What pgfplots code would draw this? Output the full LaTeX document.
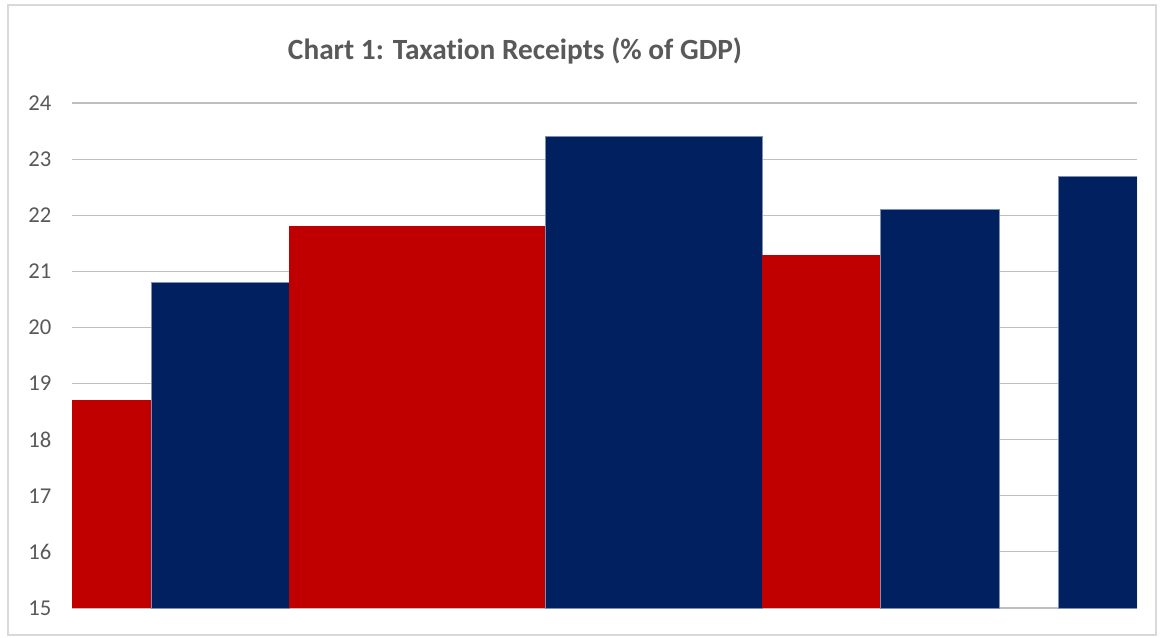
\documentclass[border=0pt]{standalone}
\usepackage{pgfplots}
\pgfplotsset{compat=1.18}
\usepackage{fontspec}
\setmainfont{Carlito}[Ligatures=NoCommon]
\definecolor{exred}{HTML}{C00000}
\definecolor{exblue}{HTML}{002060}
\definecolor{txt}{HTML}{595959}
\definecolor{grid}{HTML}{D9D9D9}
\definecolor{edge}{HTML}{7F8FB0}
\begin{document}
\begin{tikzpicture}[x=0.75pt,y=0.75pt]
\path[use as bounding box] (-72,-29) rectangle (1088,608);
\draw[grid, line width=0.9pt] (-64,-27) rectangle (1084,603);
\begin{axis}[
  at={(0,0)}, anchor=south west,
  scale only axis,
  width=798.75pt, height=378.75pt,
  xmin=72, xmax=1137,
  ymin=15, ymax=24,
  ytick={15,16,...,24},
  xtick=\empty,
  ymajorgrids,
  grid style={grid, line width=0.9pt},
  axis line style={draw=none},
  major tick length=0pt,
  tick label style={font=\fontsize{17}{20}\selectfont, text=txt},
  yticklabel style={xshift=-12pt},
  /pgf/number format/assume math mode=true,
  clip=true,
]
\addplot[fill=exred, draw=none] coordinates {(72,15) (72,18.7) (151.5,18.7) (151.5,15)} --cycle;
\addplot[fill=exblue, draw=edge, line width=0.35pt] coordinates {(151.5,15) (151.5,20.8) (289,20.8) (289,15)} --cycle;
\addplot[fill=exred, draw=none] coordinates {(289,15) (289,21.8) (545,21.8) (545,15)} --cycle;
\addplot[fill=exblue, draw=edge, line width=0.35pt] coordinates {(545,15) (545,23.4) (762,23.4) (762,15)} --cycle;
\addplot[fill=exred, draw=none] coordinates {(762,15) (762,21.3) (880.5,21.3) (880.5,15)} --cycle;
\addplot[fill=exblue, draw=edge, line width=0.35pt] coordinates {(880.5,15) (880.5,22.1) (999,22.1) (999,15)} --cycle;
\addplot[fill=exblue, draw=edge, line width=0.35pt] coordinates {(1058.5,15) (1058.5,22.7) (1137,22.7) (1137,15)} --cycle;
\end{axis}
\node[text=txt, font=\fontsize{22}{26}\selectfont\bfseries, anchor=base] at (443,548) {Chart 1: Taxation Receipts (\% of GDP)};
\end{tikzpicture}
\end{document}
